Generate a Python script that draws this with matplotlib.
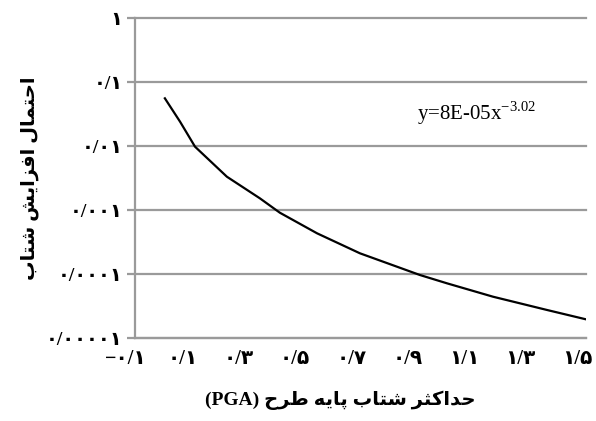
import numpy as np
import matplotlib
matplotlib.use("Agg")
import matplotlib.pyplot as plt
import matplotlib.transforms as mtransforms
from matplotlib.ticker import FixedLocator, FixedFormatter, NullLocator

# curve
pga = [0.006, 0.060, 0.113, 0.226, 0.343, 0.414, 0.546, 0.698, 0.911, 1.007, 1.170, 1.362, 1.500]
prob = [0.0562, 0.0242, 0.00986, 0.00335, 0.00154, 0.000917, 0.000437, 0.000213,
        9.75e-5, 7.23e-5, 4.47e-5, 2.77e-5, 1.98e-5]

x_ticks = [-0.1, 0.1, 0.3, 0.5, 0.7, 0.9, 1.1, 1.3, 1.5]
x_labels = ["\u2212۰/۱", "۰/۱", "۰/۳", "۰/۵", "۰/۷", "۰/۹", "۱/۱", "۱/۳", "۱/۵"]
y_ticks = [1e-5, 1e-4, 1e-3, 1e-2, 1e-1, 1]
y_labels = ["۰/۰۰۰۰۱", "۰/۰۰۰۱", "۰/۰۰۱", "۰/۰۱", "۰/۱", "۱"]

x_title = "حداکثر شتاب پایه طرح"
y_title = "احتمال افزایش شتاب"
fit_text = r"y=8E-05x$^{\mathrm{-3.02}}$"

# presentation forms: isolated, final, initial, medial
FORMS = {
    "ا": ("\uFE8D", "\uFE8E", None, None),
    "ب": ("\uFE8F", "\uFE90", "\uFE91", "\uFE92"),
    "پ": ("\uFB56", "\uFB57", "\uFB58", "\uFB59"),
    "ت": ("\uFE95", "\uFE96", "\uFE97", "\uFE98"),
    "ث": ("\uFE99", "\uFE9A", "\uFE9B", "\uFE9C"),
    "ح": ("\uFEA1", "\uFEA2", "\uFEA3", "\uFEA4"),
    "د": ("\uFEA9", "\uFEAA", None, None),
    "ر": ("\uFEAD", "\uFEAE", None, None),
    "ز": ("\uFEAF", "\uFEB0", None, None),
    "ش": ("\uFEB5", "\uFEB6", "\uFEB7", "\uFEB8"),
    "ط": ("\uFEC1", "\uFEC2", "\uFEC3", "\uFEC4"),
    "ف": ("\uFED1", "\uFED2", "\uFED3", "\uFED4"),
    "ک": ("\uFB8E", "\uFB8F", "\uFB90", "\uFB91"),
    "ل": ("\uFEDD", "\uFEDE", "\uFEDF", "\uFEE0"),
    "م": ("\uFEE1", "\uFEE2", "\uFEE3", "\uFEE4"),
    "ه": ("\uFEE9", "\uFEEA", "\uFEEB", "\uFEEC"),
    "ی": ("\uFBFC", "\uFBFD", "\uFBFE", "\uFBFF"),
}


def shape(s):
    # matplotlib has no arabic shaping, do it by hand and flip to visual order
    out = []
    for i, ch in enumerate(s):
        f = FORMS.get(ch)
        if f is None:
            out.append(ch)
            continue
        prev = s[i - 1] if i > 0 else None
        nxt = s[i + 1] if i + 1 < len(s) else None
        jp = prev in FORMS and FORMS[prev][2] is not None
        jn = nxt in FORMS and f[2] is not None
        if jp and jn:
            out.append(f[3])
        elif jp:
            out.append(f[1])
        elif jn:
            out.append(f[2])
        else:
            out.append(f[0])
    return "".join(reversed(out))


plt.rcParams["font.family"] = ["Liberation Serif", "DejaVu Sans"]
plt.rcParams["mathtext.fontset"] = "custom"
plt.rcParams["mathtext.rm"] = "Liberation Serif"

grey = "#9a9a9a"

fig = plt.figure(figsize=(5.96, 4.21), dpi=100)
ax = fig.add_axes([0.2265, 0.1964, 0.9832 - 0.2265, 0.9565 - 0.1964])

ax.plot(pga, prob, color="black", lw=1.6)
ax.set_yscale("log")
ax.set_xlim(-0.1, 1.5)
ax.set_ylim(1e-5, 1)

ax.yaxis.set_major_locator(FixedLocator(y_ticks))
ax.yaxis.set_major_formatter(FixedFormatter(y_labels))
ax.yaxis.set_minor_locator(NullLocator())
ax.xaxis.set_major_locator(FixedLocator(x_ticks))
ax.xaxis.set_major_formatter(FixedFormatter(x_labels))

ax.grid(axis="y", color=grey, lw=1.6)
for s in ["top", "right"]:
    ax.spines[s].set_visible(False)
for s in ["left", "bottom"]:
    ax.spines[s].set_color(grey)
    ax.spines[s].set_linewidth(1.6)
for gl in ax.yaxis.get_gridlines():
    gl.set_clip_on(False)

ax.tick_params(axis="y", length=6, width=1.6, color=grey, pad=3, labelsize=14)
ax.tick_params(axis="x", length=0, pad=8, labelsize=14.5)
for lab in ax.get_yticklabels() + ax.get_xticklabels():
    lab.set_fontweight("bold")

shift = mtransforms.ScaledTranslation(-9 / 100, 0, fig.dpi_scale_trans)
for lab in ax.get_xticklabels():
    lab.set_transform(lab.get_transform() + shift)

ax.set_xlabel("(PGA) " + shape(x_title), fontsize=14, fontweight="bold")
ax.xaxis.set_label_coords(0.455, -0.162)
ax.set_ylabel(shape(y_title), fontsize=14, fontweight="bold", labelpad=5)

ax.text(0.625, 0.704, fit_text, transform=ax.transAxes, fontsize=15,
        ha="left", va="center")

fig.savefig("out.png", dpi=100)
